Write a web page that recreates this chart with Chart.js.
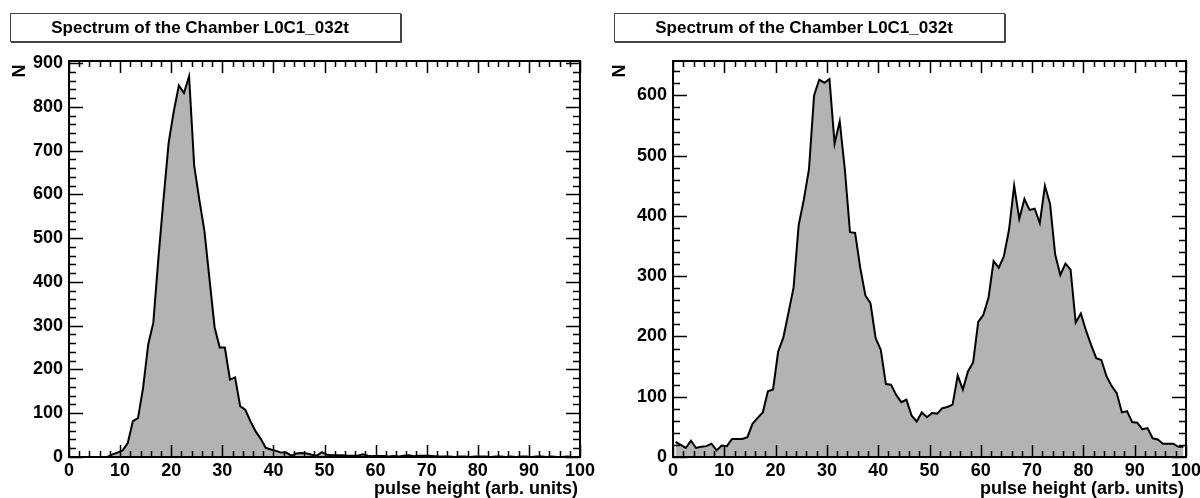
<!DOCTYPE html>
<html>
<head>
<meta charset="utf-8">
<script src="https://cdn.jsdelivr.net/npm/chart.js@4"></script>
<style>
  html, body { margin: 0; padding: 0; background: #fff; }
  body { width: 1200px; height: 498px; position: relative; overflow: hidden; }
  canvas { position: absolute; top: 0; }
  #left { left: 0; }
  #right { left: 600px; }
</style>
</head>
<body>
<canvas id="left" width="600" height="498"></canvas>
<canvas id="right" width="600" height="498"></canvas>
<script>
// histogram contents, one value per unit-wide bin (0..99)
const titleText = 'Spectrum of the Chamber L0C1_032t'
const xTitle = 'pulse height (arb. units)'
const yTitle = 'N'

const leftCounts = [
  0, 0, 0, 0, 0, 0, 0, 0, 6, 10,
  15, 32, 82, 89, 158, 257, 307, 455, 590, 718,
  790, 849, 832, 870, 666, 588, 517, 406, 296, 250,
  250, 177, 182, 116, 108, 82, 59, 42, 21, 17,
  14, 10, 10, 3, 8, 9, 8, 5, 3, 11,
  5, 4, 4, 4, 3, 3, 3, 6, 3, 2,
  2, 2, 1, 2, 1, 3, 4, 2, 3, 3,
  3, 2, 1, 1, 1, 0, 1, 1, 0, 1,
  1, 1, 0, 1, 1, 0, 1, 0, 1, 1,
  0, 1, 1, 0, 1, 0, 0, 1, 0, 0
]

const rightCounts = [
  25, 20, 15, 27, 15, 17, 18, 22, 11, 19,
  18, 30, 30, 30, 33, 55, 65, 74, 109, 112,
  175, 198, 239, 281, 385, 427, 477, 600, 626, 621,
  627, 520, 557, 477, 373, 372, 314, 268, 255, 197,
  178, 121, 120, 103, 91, 95, 69, 59, 74, 66,
  73, 72, 81, 83, 87, 135, 112, 142, 157, 224,
  236, 264, 325, 314, 333, 377, 450, 395, 428, 410,
  412, 388, 450, 420, 336, 302, 321, 311, 223, 238,
  210, 186, 164, 161, 134, 118, 106, 74, 76, 58,
  57, 46, 48, 31, 29, 22, 22, 22, 17, 17
]

// axis ranges and tick labels
const xRange = [0, 100]
const leftYRange = [0, 905]
const rightYRange = [0, 657]
const xTicks = [0, 10, 20, 30, 40, 50, 60, 70, 80, 90, 100]
const leftYTicks = [0, 100, 200, 300, 400, 500, 600, 700, 800, 900]
const rightYTicks = [0, 100, 200, 300, 400, 500, 600]
const xMajor = 10, xMinor = 2
const yMajor = 100, yMinor = 20

const FONT = '"Liberation Sans", Arial, Helvetica, sans-serif'
Chart.defaults.font.family = FONT
Chart.defaults.color = '#000'

// ROOT-like frame, inward ticks, title box and axis titles
const rootFrame = {
  id: 'rootFrame',
  afterDatasetsDraw(chart, args, opts) {
    const ctx = chart.ctx
    const a = chart.chartArea
    const xs = chart.scales.x, ys = chart.scales.y
    ctx.save()
    ctx.strokeStyle = '#000'
    ctx.lineWidth = 1.5
    ctx.beginPath()
    for (let v = xs.min; v <= xs.max + 1e-9; v += xMinor) {
      const px = Math.round(xs.getPixelForValue(v)) + 0.5
      const len = Math.abs(v % xMajor) < 1e-9 ? 12 : 6
      ctx.moveTo(px, a.bottom); ctx.lineTo(px, a.bottom - len)
      ctx.moveTo(px, a.top); ctx.lineTo(px, a.top + len)
    }
    for (let v = 0; v <= ys.max + 1e-9; v += yMinor) {
      const py = Math.round(ys.getPixelForValue(v)) + 0.5
      const len = Math.abs(v % yMajor) < 1e-9 ? 14 : 7
      ctx.moveTo(a.left, py); ctx.lineTo(a.left + len, py)
      ctx.moveTo(a.right, py); ctx.lineTo(a.right - len, py)
    }
    ctx.stroke()
    ctx.lineWidth = 2
    ctx.strokeRect(a.left, a.top, a.right - a.left, a.bottom - a.top)

    // title box
    const b = opts.box
    ctx.fillStyle = '#fff'
    ctx.fillRect(b[0], b[1], b[2], b[3])
    ctx.lineWidth = 1
    ctx.strokeStyle = '#444'
    ctx.strokeRect(b[0] + 0.5, b[1] + 0.5, b[2], b[3])
    ctx.beginPath()
    ctx.moveTo(b[0] + b[2] + 1.5, b[1] + 1); ctx.lineTo(b[0] + b[2] + 1.5, b[1] + b[3] + 1.5)
    ctx.lineTo(b[0] + 1, b[1] + b[3] + 1.5)
    ctx.stroke()
    ctx.fillStyle = '#000'
    ctx.font = 'bold 17px ' + FONT
    ctx.textAlign = 'center'
    ctx.textBaseline = 'middle'
    ctx.fillText(titleText, b[0] + b[2] / 2 - 5, b[1] + b[3] / 2 + 1)

    // x title, right aligned at the end of the axis
    ctx.font = 'bold 18px ' + FONT
    ctx.textAlign = 'right'
    ctx.textBaseline = 'alphabetic'
    ctx.fillText(xTitle, a.right - 2, 494)

    // y title, rotated at the top of the axis
    ctx.save()
    ctx.translate(opts.nx, 71)
    ctx.rotate(-Math.PI / 2)
    ctx.textAlign = 'center'
    ctx.textBaseline = 'middle'
    ctx.fillText(yTitle, 0, 0)
    ctx.restore()
    ctx.restore()
  }
}

function makeChart(id, counts, yRange, yTicks, yWidth, padRight, box, nx) {
  const points = counts.map((c, i) => ({ x: i + 0.5, y: c }))
  return new Chart(document.getElementById(id), {
    type: 'line',
    data: {
      datasets: [{
        data: points,
        borderColor: '#000',
        borderWidth: 2,
        backgroundColor: '#b3b3b3',
        fill: 'origin',
        pointRadius: 0,
        tension: 0
      }]
    },
    options: {
      responsive: false,
      animation: false,
      devicePixelRatio: 1,
      layout: { padding: { top: 61, right: padRight, left: 0, bottom: 0 } },
      plugins: {
        legend: { display: false },
        tooltip: { enabled: false },
        rootFrame: { box: box, nx: nx }
      },
      scales: {
        x: {
          type: 'linear',
          min: xRange[0],
          max: xRange[1],
          grid: { display: false },
          border: { display: false },
          ticks: { maxRotation: 0, padding: -5, font: { size: 18, weight: 'bold' } },
          afterBuildTicks(scale) { scale.ticks = xTicks.map(v => ({ value: v })) },
          afterFit(scale) { scale.height = 41; scale.paddingLeft = 0; scale.paddingRight = 0 }
        },
        y: {
          min: yRange[0],
          max: yRange[1],
          grid: { display: false },
          border: { display: false },
          ticks: { padding: -2, font: { size: 18, weight: 'bold' } },
          afterBuildTicks(scale) { scale.ticks = yTicks.map(v => ({ value: v })) },
          afterFit(scale) { scale.width = yWidth; scale.paddingTop = 0; scale.paddingBottom = 0 }
        }
      }
    },
    plugins: [rootFrame]
  })
}

makeChart('left', leftCounts, leftYRange, leftYTicks, 69, 20, [10, 13, 390, 28], 20)
makeChart('right', rightCounts, rightYRange, rightYTicks, 73, 14, [14, 13, 390, 28], 20)
</script>
</body>
</html>
